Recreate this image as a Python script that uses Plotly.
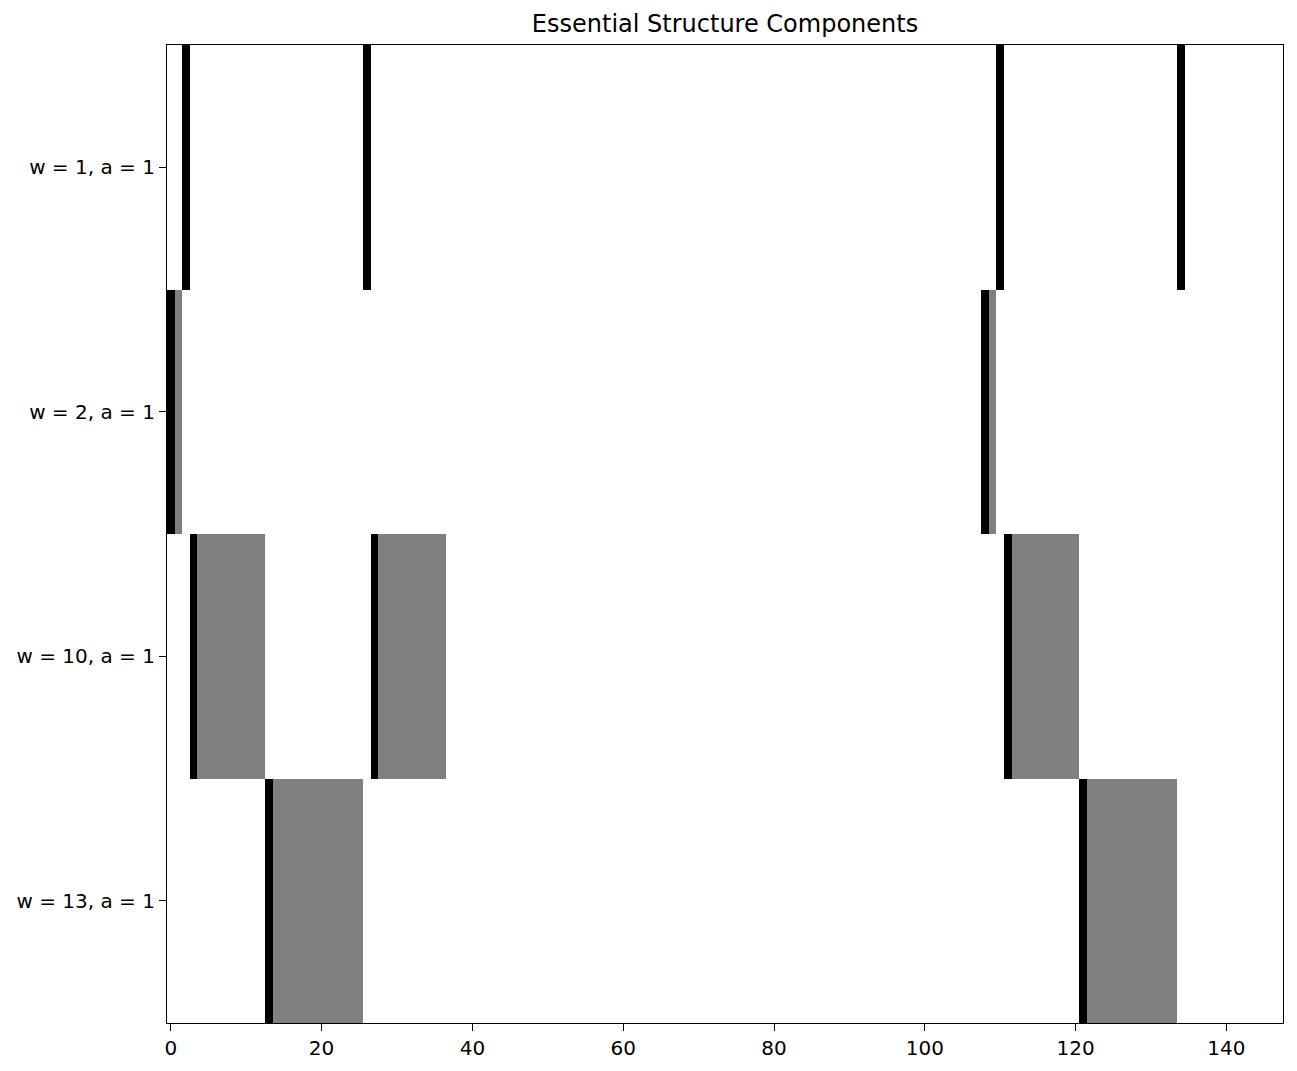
import numpy as np
import plotly.graph_objects as go

# rows of the structure plot
row_labels = ["w = 1, a = 1", "w = 2, a = 1", "w = 10, a = 1", "w = 13, a = 1"]
row_widths = [1, 2, 10, 13]
# start column of every repetition in each row
row_starts = [
    [2, 26, 110, 134],
    [0, 108],
    [3, 27, 111],
    [13, 121],
]
n_cols = 148

# start column is drawn black (1), the rest of the block grey (0.5)
z = np.zeros((len(row_labels), n_cols))
for r, (w, starts) in enumerate(zip(row_widths, row_starts)):
    for s in starts:
        z[r, s:s + w] = 0.5
        z[r, s] = 1.0

fig = go.Figure(go.Heatmap(
    z=z,
    x=list(range(n_cols)),
    y=list(range(len(row_labels))),
    colorscale=[[0, "white"], [0.5, "#808080"], [1, "black"]],
    zmin=0, zmax=1,
    showscale=False,
    hoverinfo="skip",
))

# page has an 8px body margin, so margins are shifted to compensate
fig.update_layout(
    width=1297, height=1071,
    margin=dict(l=159, r=22, t=37, b=56),
    plot_bgcolor="white", paper_bgcolor="white",
    font=dict(family="DejaVu Sans", size=20, color="black"),
    title=dict(text="Essential Structure Components", x=0.5, xanchor="center",
               xref="paper", y=1 - 16 / 1071, yanchor="middle",
               font=dict(size=24)),
)
fig.update_xaxes(
    range=[-0.5, n_cols - 0.5], tickvals=list(range(0, 141, 20)),
    ticks="outside", ticklen=7, tickcolor="black", automargin=False,
    showline=True, linecolor="black", linewidth=1.2, mirror=True,
    showgrid=False, zeroline=False,
)
fig.update_yaxes(
    range=[len(row_labels) - 0.5, -0.5],
    tickvals=list(range(len(row_labels))), ticktext=row_labels,
    ticks="outside", ticklen=7, tickcolor="black", automargin=False,
    showline=True, linecolor="black", linewidth=1.2, mirror=True,
    showgrid=False, zeroline=False,
)

fig.write_html("out.html")
